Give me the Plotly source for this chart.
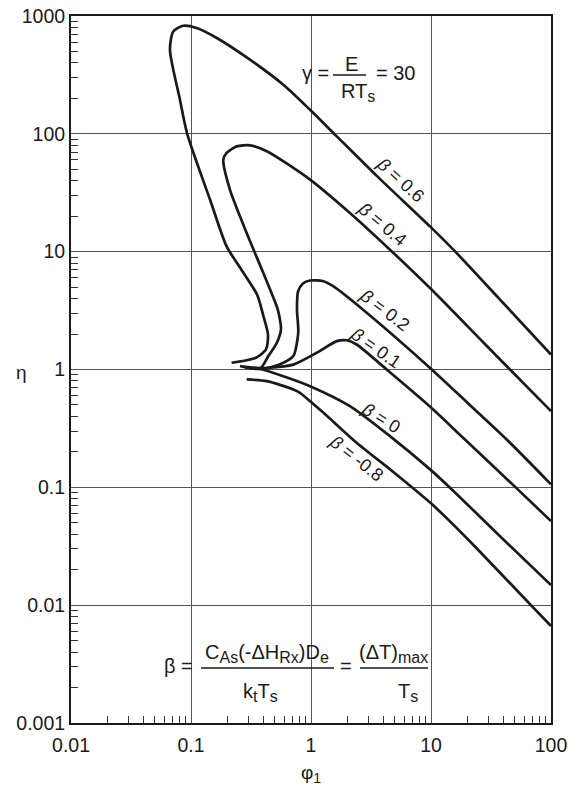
import plotly.graph_objects as go

# ---------------- data ----------------
phi_b06 = [0.218, 0.348, 0.422, 0.438, 0.398, 0.355, 0.256, 0.198, 0.144, 0.093,
           0.0809, 0.0668, 0.0712, 0.0863, 0.1115, 0.164, 0.310, 0.588, 0.982, 1.64,
           3.53, 9.8, 15.8, 37.6, 100]
eta_b06 = [1.14, 1.26, 1.48, 1.98, 2.93, 4.33, 7.33, 11.1, 27.7, 100,
           195, 518, 740, 827, 791, 651, 426, 261, 160, 95.2,
           44.0, 16.4, 10.1, 3.92, 1.34]

phi_b04 = [0.256, 0.376, 0.441, 0.518, 0.562, 0.541, 0.518, 0.400, 0.291, 0.211, 0.186,
           0.198, 0.240, 0.310, 0.428, 0.982, 2.11, 4.55, 10.1, 27.1, 45.5, 100]
eta_b04 = [1.07, 1.02, 1.30, 1.68, 2.18, 2.93, 3.44, 6.61, 14.4, 33.6, 60.4,
           68.9, 78.3, 79.9, 71.1, 40.9, 21.3, 10.4, 4.77, 1.71, 1.0, 0.443]

phi_b02 = [0.271, 0.428, 0.588, 0.712, 0.783, 0.764, 0.780, 0.857, 0.982, 1.27, 1.53,
           2.91, 9.82, 19.8, 42.7, 100]
eta_b02 = [1.06, 1.03, 1.14, 1.30, 2.05, 3.23, 4.59, 5.36, 5.69, 5.61, 5.09,
           3.03, 1.03, 0.53, 0.255, 0.106]

phi_b01 = [0.310, 0.428, 0.712, 1.12, 1.64, 1.98, 2.40, 4.27, 10, 18.6, 51.8, 100]
eta_b01 = [1.02, 1.03, 1.10, 1.39, 1.74, 1.77, 1.63, 1.0, 0.476, 0.262, 0.098, 0.0517]

phi_b0 = [0.282, 0.376, 0.588, 0.982, 2.11, 4.55, 9.82, 14.4, 37.6, 100]
eta_b0 = [1.04, 1.01, 0.877, 0.722, 0.489, 0.272, 0.142, 0.0993, 0.0385, 0.0148]

phi_bm08 = [0.291, 0.428, 0.712, 0.809, 1.27, 2.40, 4.85, 10.1, 19.8, 66.8, 100]
eta_bm08 = [0.823, 0.796, 0.677, 0.634, 0.429, 0.239, 0.135, 0.0724, 0.0372, 0.0102, 0.00665]

curve_labels = ["β = 0.6", "β = 0.4", "β = 0.2", "β = 0.1", "β = 0", "β = -0.8"]

x_tick_vals = [0.01, 0.1, 1, 10, 100]
x_tick_text = ["0.01", "0.1", "1", "10", "100"]
y_tick_vals = [0.001, 0.01, 0.1, 1, 10, 100, 1000]
y_tick_text = ["0.001", "0.01", "0.1", "1", "10", "100", "1000"]

# ---------------- layout helpers ----------------
W, H = 568, 787
SL, SR, ST, SB = 71, 551, 16, 723   # plot area in page pixels
FONT = "Liberation Sans"
INK = "#1a1a1a"


def px(x):
    return (x - SL) / (SR - SL)


def py(y):
    return (SB - y) / (SB - ST)


def sub(s, size=16):
    return f"<sub><span style='font-size:{size}px'>{s}</span></sub>"


fig = go.Figure()
series = [(phi_b06, eta_b06), (phi_b04, eta_b04), (phi_b02, eta_b02),
          (phi_b01, eta_b01), (phi_b0, eta_b0), (phi_bm08, eta_bm08)]
for (ph, et), name in zip(series, curve_labels):
    fig.add_trace(go.Scatter(x=ph, y=et, mode="lines", name=name,
                             line=dict(color=INK, width=2.7, shape="spline", smoothing=0.7),
                             hoverinfo="skip", showlegend=False))

minor_x = [m * 10 ** e for e in range(-2, 2) for m in range(2, 10)]
minor_y = [m * 10 ** e for e in range(-3, 3) for m in range(2, 10)]

axis_common = dict(type="log", showgrid=True, gridcolor="#555555", gridwidth=1.3,
                   showline=True, linecolor=INK, linewidth=2, mirror=True,
                   zeroline=False, ticks="", tickmode="array", automargin=False,
                   ticklabeloverflow="allow",
                   tickfont=dict(family=FONT, size=19.5, color=INK))

fig.update_xaxes(range=[-2, 2], tickvals=x_tick_vals, ticktext=x_tick_text,
                 minor=dict(tickmode="array", tickvals=minor_x, ticks="inside", ticklen=7,
                            tickwidth=1.2, tickcolor="#333333", showgrid=False),
                 ticklabelstandoff=4, **axis_common)
fig.update_yaxes(range=[-3, 3], tickvals=y_tick_vals, ticktext=y_tick_text,
                 minor=dict(tickmode="array", tickvals=minor_y, ticks="inside", ticklen=7,
                            tickwidth=1.2, tickcolor="#333333", showgrid=False),
                 ticklabelstandoff=0, **axis_common)

shapes = []
# white boxes behind the formulas (break the grid lines)
shapes.append(dict(type="rect", xref="paper", yref="paper", x0=px(298), x1=px(422),
                   y0=py(99), y1=py(48), fillcolor="white", line=dict(width=0), layer="between"))
shapes.append(dict(type="rect", xref="paper", yref="paper", x0=px(160), x1=px(445),
                   y0=py(694), y1=py(632), fillcolor="white", line=dict(width=0), layer="between"))
# fraction bars
for x0, x1, y in [(333, 366, 75), (201, 334, 668), (360, 428, 668)]:
    shapes.append(dict(type="line", xref="paper", yref="paper", x0=px(x0), x1=px(x1),
                       y0=py(y), y1=py(y), line=dict(color=INK, width=1.6), layer="above"))

ann = []


def add_text(text, x, y, size=20, xanchor="center", yanchor="middle", angle=0):
    ann.append(dict(text=text, x=px(x), y=py(y), xref="paper", yref="paper",
                    showarrow=False, xanchor=xanchor, yanchor=yanchor, textangle=angle,
                    font=dict(family=FONT, size=size, color=INK)))


# gamma formula
add_text("γ =", 331, 73, xanchor="right")
add_text("E", 351, 64)
add_text("RT" + sub("s"), 358, 92)
add_text("= 30", 374, 73, xanchor="left")

# beta formula
add_text("β =", 195, 666, xanchor="right")
add_text("C" + sub("As") + "(-ΔH" + sub("Rx") + ")D" + sub("e"), 267, 653)
add_text("k" + sub("t") + "T" + sub("s"), 260, 692)
add_text("=", 346, 666)
add_text("(ΔT)" + sub("max"), 393, 653)
add_text("T" + sub("s"), 408, 692)

# curve labels
label_pos = [(400.5, 180, 42), (382.3, 223.7, 40), (384.5, 310.3, 37),
             (375.8, 348.3, 35), (381, 418, 32), (356, 458, 38)]
for lab, (x, y, a) in zip(curve_labels, label_pos):
    add_text("<i>β</i>" + lab[1:], x, y, size=18, angle=a)

# axis titles
add_text("η", 21.7, 372, size=19)
add_text("φ" + sub("1", 14), 311, 774, size=19)

fig.update_layout(width=W, height=H,
                  margin=dict(l=SL, r=W - SR, t=ST, b=H - SB),
                  plot_bgcolor="white", paper_bgcolor="white",
                  font=dict(family=FONT, size=19.5, color=INK),
                  shapes=shapes, annotations=ann, showlegend=False)

fig.write_html("out.html", config={"displayModeBar": False},
               post_script="document.body.style.margin='0px';"
                           "document.body.style.overflow='hidden';")
